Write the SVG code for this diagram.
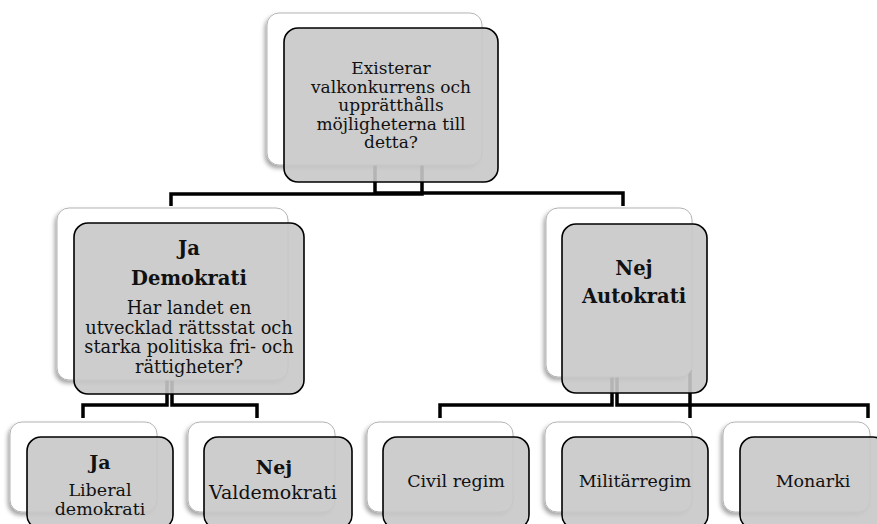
<svg xmlns="http://www.w3.org/2000/svg" width="877" height="524" viewBox="0 0 877 524">
<defs>
<filter id="sh" x="-20%" y="-20%" width="140%" height="140%">
<feDropShadow dx="-2" dy="3" stdDeviation="2" flood-color="#000" flood-opacity="0.35"/>
</filter>
</defs>
<style>
.back{fill:#ffffff;stroke:#b4b4b4;stroke-width:1;filter:url(#sh)}
.front{fill:#c8c8c8;fill-opacity:0.9;stroke:#000;stroke-width:1.6}
.conn{fill:none;stroke:#000;stroke-width:3.5;stroke-linejoin:miter}
text{font-family:"DejaVu Serif","Liberation Serif",serif;fill:#111;text-anchor:middle}
.t{font-size:17px}
.m{font-size:17.5px}
.d{font-size:17.8px}
.b{font-weight:bold;font-size:19.5px}
.bs{font-weight:bold;font-size:19px}
</style>
<rect width="877" height="524" fill="#fff"/>
<g id="connectors">
<path class="conn" d="M422,150 V194 H171 V206"/>
<path class="conn" d="M375,150 V193 H623 V206"/>
<path class="conn" d="M167,370 V405 H83 V418"/>
<path class="conn" d="M172,370 V405 H257 V418"/>
<path class="conn" d="M612,370 V405 H440 V418"/>
<path class="conn" d="M617,370 V405 H868 V418"/>
<path class="conn" d="M690,370 V418"/>
</g>
<g id="n_root">
<rect class="back" x="267" y="13" width="215" height="152" rx="12"/>
<rect class="front" x="284" y="28" width="214" height="154" rx="14"/>
<text class="t" x="391"><tspan x="391" y="74">Existerar</tspan><tspan x="391" y="92.5">valkonkurrens och</tspan><tspan x="391" y="111">upprätthålls</tspan><tspan x="391" y="129.5">möjligheterna till</tspan><tspan x="391" y="148">detta?</tspan></text>
</g>
<g id="n_demokrati">
<rect class="back" x="57" y="208" width="231" height="172" rx="12"/>
<rect class="front" x="74" y="223" width="230" height="171" rx="14"/>
<text class="b" x="189" y="255">Ja</text>
<text class="b" x="189" y="285">Demokrati</text>
<text class="d" x="189"><tspan x="189" y="314">Har landet en</tspan><tspan x="189" y="333.5">utvecklad rättsstat och</tspan><tspan x="189" y="353">starka politiska fri- och</tspan><tspan x="189" y="372.5">rättigheter?</tspan></text>
</g>
<g id="n_autokrati">
<rect class="back" x="546" y="208" width="146" height="169" rx="12"/>
<rect class="front" x="562" y="224" width="145" height="169" rx="14"/>
<text class="b" x="634" y="275">Nej</text>
<text class="b" x="634" y="303">Autokrati</text>
</g>
<g id="n_liberal">
<rect class="back" x="10" y="422" width="147" height="90" rx="12"/>
<rect class="front" x="27" y="437" width="146" height="92" rx="14"/>
<text class="bs" x="100" y="469">Ja</text>
<text class="m" x="100"><tspan x="100" y="496">Liberal</tspan><tspan x="100" y="515">demokrati</tspan></text>
</g>
<g id="n_valdemokrati">
<rect class="back" x="188" y="422" width="147" height="90" rx="12"/>
<rect class="front" x="204" y="437" width="148" height="92" rx="14"/>
<text class="bs" x="274" y="474">Nej</text>
<text x="273" y="499" font-size="19">Valdemokrati</text>
</g>
<g id="n_civil">
<rect class="back" x="367" y="422" width="146" height="90" rx="12"/>
<rect class="front" x="383" y="437" width="146" height="92" rx="14"/>
<text class="m" x="456" y="487">Civil regim</text>
</g>
<g id="n_militar">
<rect class="back" x="545" y="422" width="147" height="90" rx="12"/>
<rect class="front" x="562" y="437" width="146" height="92" rx="14"/>
<text class="m" x="635" y="487">Militärregim</text>
</g>
<g id="n_monarki">
<rect class="back" x="723" y="422" width="147" height="90" rx="12"/>
<rect class="front" x="740" y="437" width="147" height="92" rx="14"/>
<text class="m" x="813" y="487">Monarki</text>
</g>
</svg>
